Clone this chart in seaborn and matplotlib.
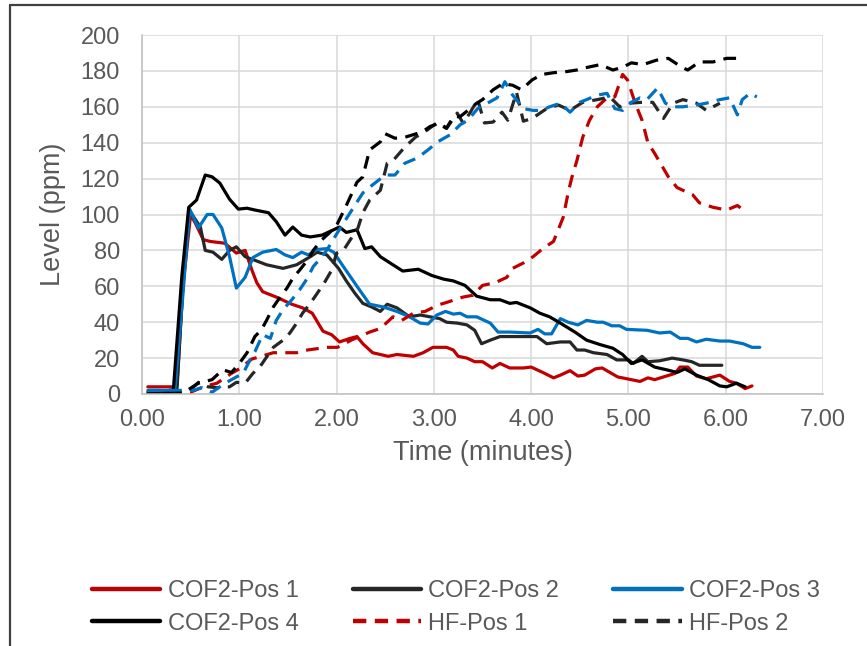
import matplotlib

matplotlib.use('Agg')
import matplotlib.pyplot as plt
import pandas as pd
import seaborn as sns
from matplotlib.lines import Line2D

# series (time in minutes, level in ppm)
cof2_pos1_t = [0.06, 0.31, 0.36, 0.42, 0.5, 0.55, 0.63, 0.7, 0.85, 0.97, 1.06, 1.13, 1.18, 1.24, 1.38, 1.54,
               1.65, 1.75, 1.86, 1.95, 2.03, 2.14, 2.21, 2.27, 2.37, 2.53, 2.62, 2.79, 2.89, 2.99, 3.13, 3.2,
               3.25, 3.34, 3.42, 3.5, 3.6, 3.68, 3.78, 3.92, 4.0, 4.12, 4.23, 4.3, 4.4, 4.48, 4.55, 4.66, 4.73,
               4.89, 5.12, 5.2, 5.27, 5.39, 5.48, 5.53, 5.61, 5.7, 5.8, 5.94, 6.04, 6.11, 6.2, 6.27]
cof2_pos1_y = [4, 4, 5, 60, 100, 95, 86, 85, 84, 78.5, 80, 69, 62, 57, 54, 50,
               48, 45, 35, 33, 29, 31, 32, 28, 23, 21, 22, 21, 23, 26, 26, 24.5,
               21, 20, 18, 18, 14.5, 17, 14.5, 14.5, 15, 12, 9, 10.5, 13, 10, 10.5, 14, 14.5,
               9.5, 7, 9, 8, 10, 11.5, 15, 15, 10, 8.5, 10.5, 7, 6, 3, 4.5]

cof2_pos2_t = [0.06, 0.31, 0.36, 0.42, 0.49, 0.6, 0.65, 0.73, 0.82, 0.9, 0.97, 1.06, 1.16, 1.28, 1.45, 1.59,
               1.73, 1.8, 1.9, 2.02, 2.1, 2.19, 2.27, 2.36, 2.45, 2.52, 2.62, 2.75, 2.86, 2.96, 3.06, 3.13,
               3.24, 3.34, 3.42, 3.49, 3.58, 3.68, 3.85, 4.06, 4.16, 4.3, 4.4, 4.47, 4.55, 4.64, 4.78, 4.88,
               5.0, 5.05, 5.14, 5.2, 5.32, 5.45, 5.56, 5.65, 5.73, 5.96]
cof2_pos2_y = [1, 1, 3, 60, 102, 93, 80, 79, 75, 80, 82, 76.5, 74.5, 72, 70, 72,
               76.5, 79, 77.5, 70, 63, 56, 50.5, 48.5, 46, 50, 48, 43, 44, 43, 42, 40,
               39.5, 38.5, 35.5, 28, 30, 32, 32, 32, 28, 29, 29, 24.5, 24.5, 23, 22, 19,
               19, 17, 21, 18, 18.5, 20, 19, 18, 16, 16]

cof2_pos3_t = [0.06, 0.27, 0.34, 0.42, 0.49, 0.58, 0.67, 0.73, 0.82, 0.9, 0.97, 1.06, 1.14, 1.24, 1.38, 1.47,
               1.55, 1.64, 1.71, 1.8, 1.9, 1.97, 2.07, 2.21, 2.34, 2.48, 2.62, 2.75, 2.86, 2.94, 3.03, 3.12,
               3.2, 3.27, 3.34, 3.44, 3.58, 3.66, 3.78, 3.99, 4.07, 4.14, 4.21, 4.3, 4.38, 4.48, 4.57, 4.68,
               4.74, 4.83, 4.91, 4.98, 5.19, 5.32, 5.43, 5.53, 5.61, 5.7, 5.8, 5.94, 6.04, 6.18, 6.27, 6.35]
cof2_pos3_y = [2, 2, 3, 55, 103, 92.5, 100, 100, 92.5, 76.5, 59, 65, 76, 79, 80.5, 77.5,
               76, 79, 77.5, 80.5, 81, 79, 71, 60, 50, 48.5, 46, 43, 39.5, 39, 44, 46,
               44.5, 45, 43, 43, 39.5, 34.5, 34.5, 34, 36, 33.5, 33.5, 42, 40, 38.5, 41, 40,
               40, 38, 38, 36, 35.5, 34, 34.5, 31, 31, 29, 30.5, 29.5, 29.5, 28, 26, 26]

cof2_pos4_t = [0.06, 0.32, 0.41, 0.48, 0.56, 0.65, 0.72, 0.8, 0.9, 0.99, 1.08, 1.16, 1.3, 1.38, 1.47, 1.55,
               1.64, 1.73, 1.85, 1.95, 2.03, 2.1, 2.21, 2.26, 2.29, 2.36, 2.45, 2.55, 2.68, 2.84, 2.98, 3.1,
               3.2, 3.32, 3.44, 3.58, 3.68, 3.78, 3.85, 3.99, 4.09, 4.19, 4.3, 4.45, 4.57, 4.71, 4.84, 4.94,
               5.03, 5.14, 5.27, 5.39, 5.5, 5.58, 5.7, 5.82, 5.94, 6.01, 6.11, 6.2]
cof2_pos4_y = [0, 0.5, 66, 104, 108, 122, 121, 117.5, 108.5, 103, 103.5, 102.5, 101, 96, 88.5, 93,
               88.5, 87.5, 88.5, 91, 93, 90, 91.5, 85, 81, 82, 76.5, 73, 68.5, 69.5, 66, 64,
               63, 60.5, 54.5, 52.5, 52.5, 50.5, 51, 48, 45, 43, 39.5, 34.5, 30, 27.5, 25.5, 22,
               17, 19, 15, 13.5, 12, 14, 10.5, 8, 4.5, 4, 6, 4]

hf_pos1_t = [0.06, 0.5, 0.63, 0.77, 0.92, 1.0, 1.13, 1.35, 1.59, 1.7, 1.9, 2.01, 2.15, 2.34, 2.45, 2.58,
             2.67, 2.79, 2.91, 3.04, 3.13, 3.3, 3.4, 3.5, 3.63, 3.75, 3.81, 3.92, 4.02, 4.12, 4.23, 4.33,
             4.38, 4.42, 4.47, 4.53, 4.6, 4.68, 4.78, 4.86, 4.94, 4.99, 5.07, 5.14, 5.2, 5.27, 5.34, 5.41,
             5.5, 5.56, 5.66, 5.73, 5.87, 6.01, 6.12, 6.22]
hf_pos1_y = [0, 1, 4, 6, 11.5, 14, 19.5, 23, 23, 24.5, 26, 26, 30, 34.5, 36.5, 43,
             41, 45, 46, 49.5, 51, 54, 55, 60.5, 62, 65, 70, 73, 76.5, 81, 85, 98.5,
             112, 121, 130, 143, 152.5, 160, 165, 165.5, 178, 175, 162, 152.5, 140, 134, 127.5, 121,
             115, 113.5, 111, 106.5, 104, 102.5, 105, 101]

hf_pos2_t = [0.06, 0.49, 0.58, 0.68, 0.77, 0.9, 0.97, 1.06, 1.14, 1.21, 1.28, 1.35, 1.45, 1.52, 1.59, 1.65,
             1.73, 1.8, 1.88, 1.95, 2.0, 2.07, 2.22, 2.27, 2.34, 2.45, 2.52, 2.58, 2.7, 2.81, 2.93, 3.03,
             3.13, 3.24, 3.3, 3.37, 3.45, 3.52, 3.61, 3.7, 3.76, 3.85, 3.92, 4.01, 4.16, 4.28, 4.4, 4.53,
             4.68, 4.81, 4.91, 5.01, 5.14, 5.25, 5.36, 5.46, 5.56, 5.7, 5.8, 5.94]
hf_pos2_y = [0, 2, 6.5, 4, 3.5, 4, 6.5, 6, 11.5, 15, 20.5, 26, 30, 34, 39.5, 45,
             50.5, 56, 62.5, 69, 78.5, 80, 92.5, 101, 108, 113.5, 128.5, 130, 137.5, 143, 147, 151,
             148, 156.5, 151, 156.5, 164, 151, 151.5, 157, 152.5, 168, 152, 153.5, 159, 161, 158, 162.5,
             164, 165.5, 160, 162, 162.5, 162.5, 153.5, 162, 164, 162, 158, 162]

hf_pos3_t = [0.06, 0.32, 0.52, 0.62, 0.72, 0.8, 0.87, 0.97, 1.04, 1.11, 1.16, 1.24, 1.32, 1.38, 1.45, 1.54,
             1.62, 1.7, 1.76, 1.85, 1.91, 2.01, 2.14, 2.27, 2.37, 2.5, 2.6, 2.7, 2.83, 2.94, 3.04, 3.17,
             3.27, 3.35, 3.45, 3.55, 3.65, 3.73, 3.81, 3.92, 4.02, 4.11, 4.19, 4.3, 4.4, 4.5, 4.57, 4.68,
             4.78, 4.86, 4.94, 5.03, 5.12, 5.19, 5.3, 5.38, 5.46, 5.56, 5.7, 5.8, 5.94, 6.04, 6.12, 6.17,
             6.25, 6.32]
hf_pos3_y = [2, 2, 2, 3.5, 1, 4, 6.5, 9.5, 11.5, 19, 23.5, 33, 31, 41, 47, 52.5,
             58, 64.5, 71, 76.5, 81, 90, 101, 112, 116.5, 122, 122, 128.5, 131.5, 136, 140.5, 144.5,
             150, 152.5, 159, 162, 165, 174, 166.5, 159, 158, 158, 160, 162, 157, 162.5, 164, 166.5,
             167.5, 159, 158, 162.5, 165, 164, 170.5, 162, 160, 160, 161, 162, 164, 165, 155.5, 164,
             167.5, 165.5]

hf_pos4_t = [0.06, 0.42, 0.58, 0.72, 0.83, 0.92, 1.0, 1.08, 1.16, 1.23, 1.28, 1.35, 1.42, 1.49, 1.55, 1.62,
             1.7, 1.76, 1.85, 1.93, 2.01, 2.1, 2.21, 2.27, 2.34, 2.45, 2.5, 2.6, 2.7, 2.79, 2.88, 2.96,
             3.06, 3.13, 3.2, 3.27, 3.35, 3.44, 3.5, 3.61, 3.71, 3.81, 3.9, 4.01, 4.11, 4.23, 4.35, 4.47,
             4.58, 4.71, 4.84, 4.94, 5.03, 5.15, 5.29, 5.41, 5.55, 5.61, 5.73, 5.87, 6.01, 6.13]
hf_pos4_y = [0, 0.5, 6, 8, 13.5, 12, 17, 23, 32, 36, 41, 48.5, 54, 59, 64.5, 69,
             74.5, 80, 86, 90, 95, 105, 118, 121, 136, 140.5, 145, 142.5, 143, 144.5, 146, 149,
             151, 148, 154.5, 154.5, 158, 162, 164, 169.5, 173, 172, 169.5, 175, 178, 179, 179.5, 180.5,
             182, 183.5, 180.5, 182, 184.5, 183.5, 186, 187, 182, 180.5, 185, 185, 187, 187]

series_names = ['COF2-Pos 1', 'COF2-Pos 2', 'COF2-Pos 3', 'COF2-Pos 4',
                'HF-Pos 1', 'HF-Pos 2', 'HF-Pos 3', 'HF-Pos 4']
series_data = [(cof2_pos1_t, cof2_pos1_y), (cof2_pos2_t, cof2_pos2_y), (cof2_pos3_t, cof2_pos3_y),
               (cof2_pos4_t, cof2_pos4_y), (hf_pos1_t, hf_pos1_y), (hf_pos2_t, hf_pos2_y),
               (hf_pos3_t, hf_pos3_y), (hf_pos4_t, hf_pos4_y)]
# the reference crop only shows the first two legend rows
legend_names = series_names[:6]
x_ticks = [0, 1, 2, 3, 4, 5, 6, 7]
y_ticks = [0, 20, 40, 60, 80, 100, 120, 140, 160, 180, 200]

RED = '#C00000'
GREY = '#262626'
BLUE = '#0070C0'
BLACK = '#000000'
palette = dict(zip(series_names, [RED, GREY, BLUE, BLACK, RED, GREY, BLUE, BLACK]))
dash = (4, 2.6)
dashes = dict(zip(series_names, ['', '', '', '', dash, dash, dash, dash]))

frames = []
for name, (t, y) in zip(series_names, series_data):
    frames.append(pd.DataFrame({'time': t, 'level': y, 'series': name}))
df = pd.concat(frames, ignore_index=True)

sns.set_theme(style='white')
plt.rcParams['font.family'] = ['Liberation Sans', 'DejaVu Sans']
TEXT = '#595959'

fig = plt.figure(figsize=(8.67, 6.46), dpi=100)
ax = fig.add_axes([142 / 867, 1 - 394 / 646, 681 / 867, 359 / 646])

sns.lineplot(data=df, x='time', y='level', hue='series', style='series', hue_order=series_names,
             style_order=series_names, palette=palette, dashes=dashes, estimator=None, sort=False,
             linewidth=2.3, ax=ax, legend=False)

ax.set_xlim(0, 7)
ax.set_ylim(0, 200)
ax.set_xticks(x_ticks)
ax.set_yticks(y_ticks)
ax.set_xticklabels([f'{v:.2f}' for v in x_ticks])
ax.grid(True, color='#D9D9D9', linewidth=1.1)
ax.set_axisbelow(True)
for side in ['top', 'right']:
    ax.spines[side].set_visible(False)
for side in ['left', 'bottom']:
    ax.spines[side].set_color('#BFBFBF')
    ax.spines[side].set_linewidth(1.1)
ax.tick_params(axis='x', length=0, pad=11, labelsize=17, colors=TEXT)
ax.tick_params(axis='y', length=0, pad=16, labelsize=17, colors=TEXT)
ax.set_xlabel('Time (minutes)', fontsize=19.5, color=TEXT, labelpad=6)
ax.set_ylabel('Level (ppm)', fontsize=19.5, color=TEXT, labelpad=10)

handles = []
for name in legend_names:
    h = Line2D([], [], color=palette[name], linewidth=3.2)
    if dashes[name]:
        h.set_dashes((3, 1.9))
    handles.append(h)
# matplotlib fills legend columns first, so reorder to read row by row
order = [0, 3, 1, 4, 2, 5]
fig.legend([handles[i] for i in order], [legend_names[i] for i in order], ncol=3,
           loc='upper left', bbox_to_anchor=(92 / 867, 1 - 580 / 646), frameon=False,
           fontsize=17, labelcolor=TEXT, handlelength=2.9, handletextpad=0.3,
           columnspacing=2.3, labelspacing=0.45, borderpad=0, borderaxespad=0)

# outer chart frame (left and top edges visible in the crop)
fig.add_artist(Line2D([10 / 867, 10 / 867], [0, 1 - 5 / 646], color='#404040', linewidth=1.6,
                      transform=fig.transFigure))
fig.add_artist(Line2D([10 / 867, 1], [1 - 5 / 646, 1 - 5 / 646], color='#404040', linewidth=1.6,
                      transform=fig.transFigure))

fig.savefig('out.png', dpi=100)
plt.close(fig)
